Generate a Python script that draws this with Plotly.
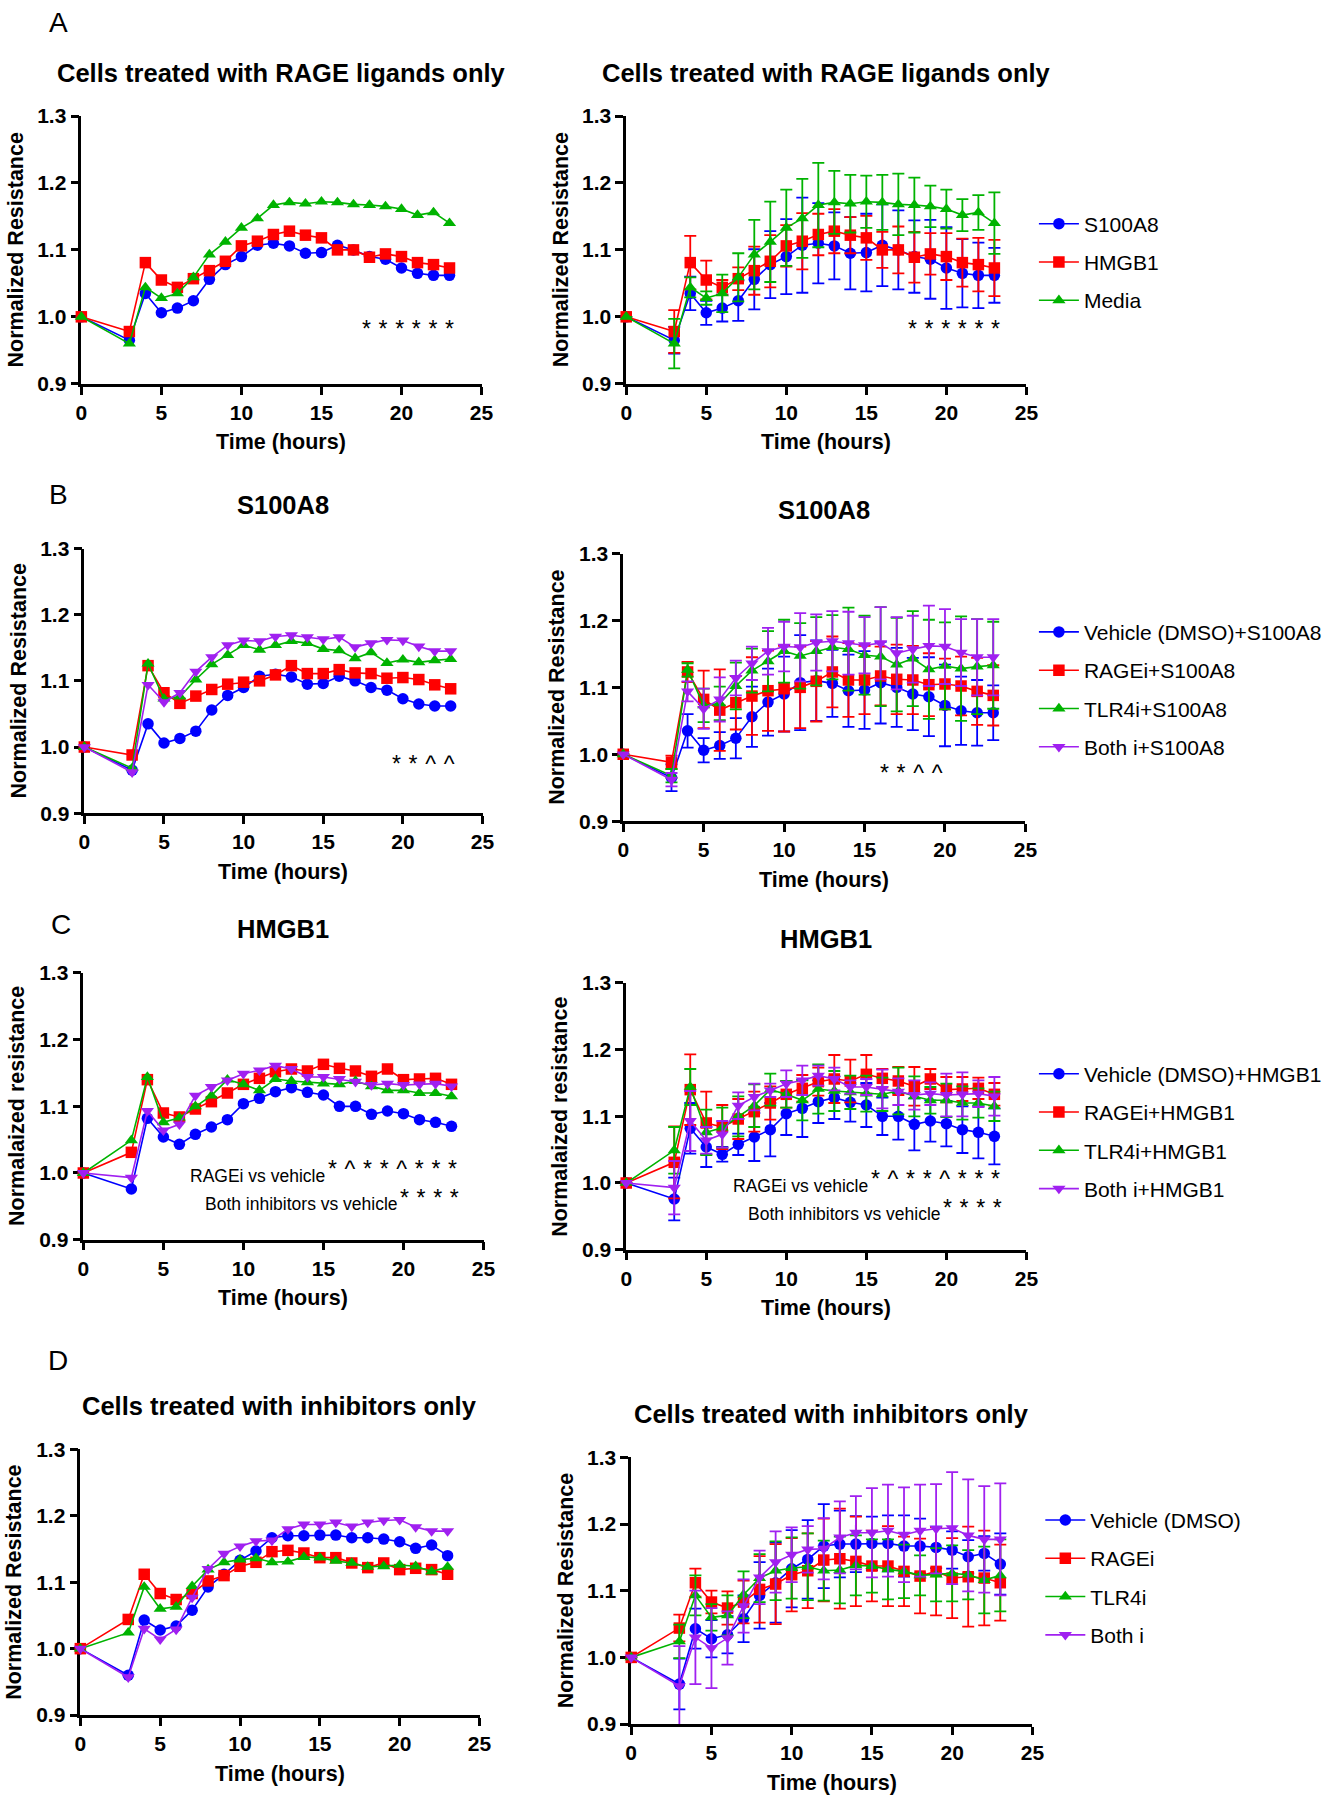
import plotly.graph_objects as go

TIME = [0, 3, 4, 5, 6, 7, 8, 9, 10, 11, 12, 13, 14, 15, 16, 17, 18, 19, 20, 21, 22, 23]
X_TICKS = [0, 5, 10, 15, 20, 25]
Y_TICKS = [0.9, 1.0, 1.1, 1.2, 1.3]

# A - cells treated with RAGE ligands only
A_S100A8 = [1.000, 0.965, 1.035, 1.006, 1.013, 1.024, 1.056, 1.078, 1.090, 1.107, 1.110,
            1.106, 1.095, 1.096, 1.107, 1.100, 1.090, 1.086, 1.073, 1.065, 1.062, 1.062]
A_HMGB1 = [1.000, 0.978, 1.081, 1.055, 1.044, 1.057, 1.069, 1.083, 1.106, 1.113, 1.123,
           1.128, 1.122, 1.118, 1.100, 1.100, 1.089, 1.094, 1.090, 1.081, 1.078, 1.073]
A_MEDIA = [1.000, 0.960, 1.044, 1.028, 1.035, 1.059, 1.093, 1.112, 1.133, 1.147, 1.167,
           1.171, 1.169, 1.172, 1.171, 1.168, 1.167, 1.165, 1.161, 1.152, 1.156, 1.140]
A_S100A8_SD = [0, 0.020, 0.025, 0.018, 0.020, 0.030, 0.045, 0.050, 0.056, 0.071, 0.060,
               0.050, 0.054, 0.058, 0.061, 0.059, 0.054, 0.059, 0.061, 0.051, 0.049, 0.041]
A_HMGB1_SD = [0, 0.032, 0.040, 0.029, 0.011, 0.017, 0.036, 0.039, 0.031, 0.042, 0.031,
              0.033, 0.027, 0.033, 0.027, 0.035, 0.038, 0.031, 0.035, 0.036, 0.040, 0.042]
A_MEDIA_SD = [0, 0.037, 0.015, 0.010, 0.028, 0.036, 0.052, 0.060, 0.057, 0.059, 0.063,
              0.047, 0.043, 0.039, 0.041, 0.046, 0.041, 0.031, 0.029, 0.024, 0.026, 0.046]

# B - S100A8 with inhibitors (vehicle curve is the S100A8 curve of A)
B_VEHICLE = list(A_S100A8)
B_VEHICLE_SD = list(A_S100A8_SD)
B_RAGEI = [1.000, 0.988, 1.123, 1.082, 1.066, 1.077, 1.087, 1.095, 1.098, 1.100, 1.109,
           1.123, 1.111, 1.111, 1.117, 1.112, 1.111, 1.104, 1.105, 1.102, 1.094, 1.088]
B_TLR4I = [1.000, 0.968, 1.126, 1.073, 1.076, 1.102, 1.125, 1.139, 1.154, 1.147, 1.154,
           1.160, 1.157, 1.148, 1.146, 1.134, 1.143, 1.127, 1.132, 1.128, 1.131, 1.133]
B_BOTH = [1.000, 0.962, 1.094, 1.068, 1.082, 1.114, 1.136, 1.154, 1.161, 1.160, 1.167,
          1.169, 1.166, 1.163, 1.166, 1.151, 1.157, 1.162, 1.161, 1.152, 1.145, 1.145]
B_RAGEI_SD = [0, 0.010, 0.015, 0.043, 0.061, 0.040, 0.058, 0.060, 0.064, 0.061, 0.060,
              0.053, 0.055, 0.051, 0.044, 0.052, 0.051, 0.047, 0.038, 0.044, 0.050, 0.045]
B_TLR4I_SD = [0, 0.010, 0.010, 0.025, 0.025, 0.035, 0.033, 0.045, 0.047, 0.049, 0.051,
              0.048, 0.062, 0.059, 0.074, 0.070, 0.071, 0.074, 0.065, 0.078, 0.071, 0.065]
B_BOTH_SD = [0, 0.010, 0.015, 0.030, 0.033, 0.026, 0.025, 0.035, 0.037, 0.051, 0.042,
             0.045, 0.047, 0.042, 0.054, 0.054, 0.050, 0.060, 0.056, 0.050, 0.057, 0.057]

# C - HMGB1 with inhibitors
C_VEHICLE = [1.000, 0.976, 1.082, 1.054, 1.043, 1.058, 1.069, 1.080, 1.104, 1.112, 1.122,
             1.128, 1.121, 1.117, 1.100, 1.100, 1.088, 1.093, 1.089, 1.080, 1.076, 1.070]
C_RAGEI = [1.000, 1.031, 1.140, 1.090, 1.084, 1.096, 1.107, 1.120, 1.133, 1.142, 1.152,
           1.156, 1.153, 1.163, 1.157, 1.153, 1.145, 1.156, 1.140, 1.141, 1.142, 1.133]
C_TLR4I = [1.000, 1.049, 1.144, 1.076, 1.083, 1.100, 1.116, 1.140, 1.133, 1.124, 1.141,
           1.138, 1.136, 1.134, 1.133, 1.138, 1.130, 1.124, 1.124, 1.120, 1.120, 1.115]
C_BOTH = [1.000, 0.993, 1.093, 1.064, 1.073, 1.116, 1.129, 1.139, 1.149, 1.154, 1.161,
          1.156, 1.144, 1.144, 1.141, 1.137, 1.132, 1.134, 1.132, 1.133, 1.134, 1.130]
C_VEHICLE_SD = [0, 0.032, 0.038, 0.030, 0.011, 0.016, 0.036, 0.040, 0.032, 0.043, 0.032,
                0.032, 0.029, 0.033, 0.028, 0.035, 0.039, 0.031, 0.034, 0.035, 0.039, 0.042]
C_RAGEI_SD = [0, 0.054, 0.053, 0.047, 0.033, 0.030, 0.030, 0.025, 0.020, 0.020, 0.021,
              0.036, 0.032, 0.029, 0.014, 0.021, 0.029, 0.015, 0.019, 0.018, 0.016, 0.017]
C_TLR4I_SD = [0, 0.035, 0.027, 0.034, 0.030, 0.030, 0.032, 0.024, 0.020, 0.030, 0.037,
              0.030, 0.025, 0.027, 0.025, 0.035, 0.030, 0.020, 0.025, 0.025, 0.022, 0.022]
C_BOTH_SD = [0, 0.040, 0.045, 0.020, 0.020, 0.020, 0.020, 0.010, 0.020, 0.022, 0.015,
             0.017, 0.010, 0.012, 0.029, 0.020, 0.022, 0.017, 0.032, 0.033, 0.020, 0.029]

# D - cells treated with inhibitors only
D_VEHICLE = [1.000, 0.960, 1.043, 1.028, 1.034, 1.058, 1.093, 1.112, 1.133, 1.147, 1.167,
             1.170, 1.170, 1.171, 1.171, 1.167, 1.167, 1.165, 1.161, 1.151, 1.156, 1.140]
D_RAGEI = [1.000, 1.044, 1.112, 1.083, 1.074, 1.083, 1.102, 1.110, 1.124, 1.130, 1.146,
           1.148, 1.144, 1.137, 1.137, 1.129, 1.122, 1.129, 1.119, 1.121, 1.119, 1.112]
D_TLR4I = [1.000, 1.024, 1.093, 1.060, 1.063, 1.094, 1.119, 1.130, 1.134, 1.136, 1.130,
           1.131, 1.138, 1.137, 1.132, 1.129, 1.123, 1.124, 1.126, 1.124, 1.116, 1.123]
D_BOTH = [1.000, 0.957, 1.030, 1.014, 1.029, 1.077, 1.120, 1.143, 1.154, 1.162, 1.163,
          1.180, 1.187, 1.187, 1.190, 1.184, 1.190, 1.193, 1.194, 1.183, 1.177, 1.177]
D_VEHICLE_SD = [0, 0.038, 0.030, 0.028, 0.028, 0.035, 0.050, 0.060, 0.058, 0.059, 0.063,
                0.050, 0.042, 0.040, 0.042, 0.046, 0.041, 0.031, 0.028, 0.025, 0.026, 0.046]
D_RAGEI_SD = [0, 0.020, 0.021, 0.017, 0.025, 0.032, 0.050, 0.060, 0.055, 0.056, 0.062,
              0.075, 0.067, 0.053, 0.060, 0.052, 0.056, 0.066, 0.060, 0.075, 0.071, 0.057]
D_TLR4I_SD = [0, 0.025, 0.030, 0.020, 0.030, 0.035, 0.036, 0.044, 0.046, 0.050, 0.045,
              0.050, 0.045, 0.040, 0.045, 0.040, 0.030, 0.040, 0.042, 0.037, 0.050, 0.054]
D_BOTH_SD = [0, 0.060, 0.070, 0.060, 0.040, 0.040, 0.040, 0.046, 0.041, 0.035, 0.046,
             0.054, 0.055, 0.067, 0.069, 0.071, 0.069, 0.067, 0.084, 0.084, 0.080, 0.084]

BLUE, RED, GREEN, PURPLE = '#0000ff', '#ff0000', '#00b300', '#a020f0'
FONT = 'Liberation Sans, Arial, sans-serif'
W, H = 1331, 1806
# the photographed page comes out slightly shrunk and shifted;
# positions below are given in photo pixels and mapped back here
S, OX, OY = 0.9885, 4.5, 10.8

fig = go.Figure()


def fx(t):
    return (t - OX) / S


def fy(t):
    return (t - OY) / S


def px_x(a, b):
    return [fx(a) / W, fx(b) / W]


def px_y(top, bottom):
    return [1 - fy(bottom) / H, 1 - fy(top) / H]


def add_panel(n, xdom, ydom, title, series, err, legend=None, ytitle='Normalized Resistance'):
    ax = '' if n == 1 else str(n)
    for name, y, sd, color, symbol in series:
        fig.add_trace(go.Scatter(
            x=TIME, y=y, name=name, mode='lines+markers',
            xaxis='x' + ax, yaxis='y' + ax, cliponaxis=False,
            line=dict(color=color, width=1.6),
            marker=dict(symbol=symbol, size=11.5, color=color),
            error_y=dict(type='data', array=sd, visible=err, color=color, thickness=1.8, width=6),
            legend=legend or 'legend', showlegend=legend is not None, legendgroup=name))
    axis = dict(showline=True, linecolor='black', linewidth=2.6, ticks='outside', ticklen=8,
                tickwidth=2.6, tickcolor='black', showgrid=False, zeroline=False,
                layer='below traces', tickfont=dict(family=FONT, size=21, color='black', weight='bold'))
    fig.update_layout({
        'xaxis' + ax: dict(axis, domain=xdom, anchor='y' + ax, range=[0, 25], tickvals=X_TICKS),
        'yaxis' + ax: dict(axis, domain=ydom, anchor='x' + ax, range=[0.9, 1.3], tickvals=Y_TICKS,
                           tickformat='.1f'),
    })
    xr, yr = f'x{ax} domain', f'y{ax} domain'
    fig.add_annotation(text=title, xref=xr, yref=yr, x=0.5, y=1, yanchor='middle', yshift=43 / S,
                       showarrow=False, font=dict(family=FONT, size=25.5, color='black', weight='bold'))
    fig.add_annotation(text='Time (hours)', xref=xr, yref=yr, x=0.5, y=0, yanchor='middle',
                       yshift=-58 / S, showarrow=False,
                       font=dict(family=FONT, size=21.5, color='black', weight='bold'))
    fig.add_annotation(text=ytitle, xref=xr, yref=yr, x=0, y=0.5, xanchor='center', xshift=-65 / S,
                       textangle=-90, showarrow=False,
                       font=dict(family=FONT, size=21.5, color='black', weight='bold'))


def note(n, text, x, y, xanchor='center', size=17.5):
    ax = '' if n == 1 else str(n)
    fig.add_annotation(text=text, xref='x' + ax, yref='y' + ax, x=x, y=y,
                       xanchor=xanchor, yanchor='middle', showarrow=False,
                       font=dict(family=FONT, size=size, color='black'))


def marks(n, symbols, x, y):
    note(n, '\u2004'.join(symbols), x, y, size=23)


ser_a = [('S100A8', A_S100A8, A_S100A8_SD, BLUE, 'circle'),
         ('HMGB1', A_HMGB1, A_HMGB1_SD, RED, 'square'),
         ('Media', A_MEDIA, A_MEDIA_SD, GREEN, 'triangle-up')]
ser_b = [('Vehicle (DMSO)+S100A8', B_VEHICLE, B_VEHICLE_SD, BLUE, 'circle'),
         ('RAGEi+S100A8', B_RAGEI, B_RAGEI_SD, RED, 'square'),
         ('TLR4i+S100A8', B_TLR4I, B_TLR4I_SD, GREEN, 'triangle-up'),
         ('Both i+S100A8', B_BOTH, B_BOTH_SD, PURPLE, 'triangle-down')]
ser_c = [('Vehicle (DMSO)+HMGB1', C_VEHICLE, C_VEHICLE_SD, BLUE, 'circle'),
         ('RAGEi+HMGB1', C_RAGEI, C_RAGEI_SD, RED, 'square'),
         ('TLR4i+HMGB1', C_TLR4I, C_TLR4I_SD, GREEN, 'triangle-up'),
         ('Both i+HMGB1', C_BOTH, C_BOTH_SD, PURPLE, 'triangle-down')]
ser_d = [('Vehicle (DMSO)', D_VEHICLE, D_VEHICLE_SD, BLUE, 'circle'),
         ('RAGEi', D_RAGEI, D_RAGEI_SD, RED, 'square'),
         ('TLR4i', D_TLR4I, D_TLR4I_SD, GREEN, 'triangle-up'),
         ('Both i', D_BOTH, D_BOTH_SD, PURPLE, 'triangle-down')]

t_a = 'Cells treated with RAGE ligands only'
t_d = 'Cells treated with inhibitors only'
add_panel(1, px_x(80, 481), px_y(115, 383), t_a, ser_a, False)
add_panel(2, px_x(626, 1027), px_y(115, 383), t_a, ser_a, True, 'legend')
add_panel(3, px_x(83, 482), px_y(548, 813), 'S100A8', ser_b, False)
add_panel(4, px_x(623, 1026), px_y(553, 821), 'S100A8', ser_b, True, 'legend2')
add_panel(5, px_x(82, 483), px_y(973, 1240), 'HMGB1', ser_c, False, ytitle='Normalaized resistance')
add_panel(6, px_x(626, 1027), px_y(983, 1250), 'HMGB1', ser_c, True, 'legend3',
          ytitle='Normalaized resistance')
add_panel(7, px_x(79, 479), px_y(1450, 1716), t_d, ser_d, False)
add_panel(8, px_x(631, 1033), px_y(1458, 1725), t_d, ser_d, True, 'legend4')

SIG_A = ['*'] * 6
SIG_B = ['*', '*', '^', '^']
SIG_C_RAGEI = ['*', '^', '*', '*', '^', '*', '*', '*']
SIG_C_BOTH = ['*'] * 4

marks(1, SIG_A, 20.4, 0.982)
marks(2, SIG_A, 20.5, 0.982)
marks(3, SIG_B, 21.3, 0.975)
marks(4, SIG_B, 17.9, 0.972)
for n in (5, 6):
    note(n, 'RAGEi vs vehicle', 15.25, 0.996, 'right')
    marks(n, SIG_C_RAGEI, 19.3, 1.006)
    note(n, 'Both inhibitors vs vehicle', 19.8, 0.953, 'right')
    marks(n, SIG_C_BOTH, 21.65, 0.963)

for letter, lx, ly in [('A', 57, 21), ('B', 57, 494), ('C', 60, 924), ('D', 57, 1361)]:
    fig.add_annotation(text=letter, xref='paper', yref='paper', x=fx(lx) / W, y=1 - fy(ly) / H,
                       xanchor='center', yanchor='middle', showarrow=False,
                       font=dict(family=FONT, size=28, color='black'))

leg = dict(xanchor='left', yanchor='top', bgcolor='rgba(0,0,0,0)', tracegroupgap=8, itemwidth=40,
           font=dict(family=FONT, size=21, color='black'))
fig.update_layout(
    width=W, height=H, margin=dict(l=0, r=0, t=0, b=0),
    paper_bgcolor='white', plot_bgcolor='white',
    legend=dict(leg, x=1042 / W, y=1 - 194 / H),
    legend2=dict(leg, x=1042 / W, y=1 - 607.5 / H),
    legend3=dict(leg, x=1042 / W, y=1 - 1055 / H),
    legend4=dict(leg, x=1048.5 / W, y=1 - 1507 / H),
)

# drop the default page margin so the figure starts at the window corner
fig.write_html('out.html', config={'displayModeBar': False},
               post_script="document.body.style.margin='0';")
